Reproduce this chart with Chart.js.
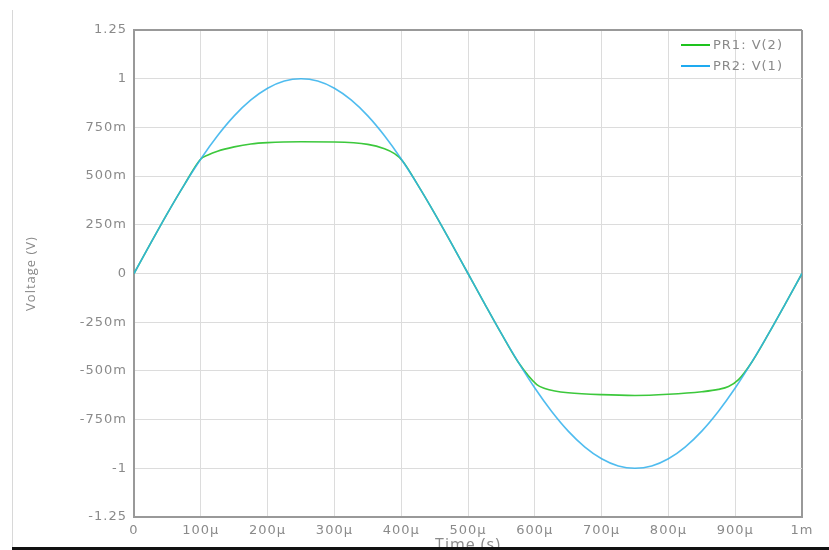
<!DOCTYPE html>
<html>
<head>
<meta charset="utf-8">
<script src="https://cdn.jsdelivr.net/npm/chart.js@4.4.1/dist/chart.umd.min.js"></script>
<style>
  html, body { margin: 0; padding: 0; background: #fff; }
  #wrap { position: relative; width: 829px; height: 550px; overflow: hidden; }
  #frame-left { position: absolute; left: 12px; top: 10px; width: 1px; height: 540px; background: #d8d8d8; }
  #frame-bottom { position: absolute; left: 12px; right: 0; top: 547px; height: 3px; background: #111; }
</style>
</head>
<body>
<div id="wrap">
  <canvas id="chart"></canvas>
  <div id="frame-left"></div>
  <div id="frame-bottom"></div>
</div>
<script>
// time in microseconds
const T1 = [0, 25, 50, 75, 100, 125, 150, 175, 200, 225, 250, 275, 300, 325, 350, 375, 400, 425, 450, 475,
  500, 525, 550, 575, 600, 625, 650, 675, 700, 725, 750, 775, 800, 825, 850, 875, 900, 925, 950, 975, 1000];
const V1 = [0, 0.156, 0.309, 0.454, 0.588, 0.707, 0.809, 0.891, 0.951, 0.988, 1.0, 0.988, 0.951, 0.891, 0.809, 0.707, 0.588, 0.454, 0.309, 0.156,
  0, -0.156, -0.309, -0.454, -0.588, -0.707, -0.809, -0.891, -0.951, -0.988, -1.0, -0.988, -0.951, -0.891, -0.809, -0.707, -0.588, -0.454, -0.309, -0.156, 0];

const T2 = [0, 25, 50, 75, 100, 110, 125, 150, 175, 200, 250, 300, 350, 375, 390, 402, 425, 450, 475,
  500, 525, 550, 575, 603, 615, 630, 650, 700, 750, 800, 850, 875, 890, 905, 925, 950, 975, 1000];
const V2 = [0, 0.156, 0.309, 0.454, 0.588, 0.607, 0.628, 0.65, 0.665, 0.672, 0.676, 0.675, 0.663, 0.64, 0.615, 0.578, 0.454, 0.309, 0.156,
  0, -0.156, -0.309, -0.454, -0.57, -0.59, -0.603, -0.612, -0.622, -0.626, -0.62, -0.607, -0.595, -0.58, -0.545, -0.454, -0.309, -0.156, 0];

const SERIES_LABELS = ["PR1: V(2)", "PR2: V(1)"];
const SERIES_COLORS = ["#3cc83c", "rgba(48,176,236,0.85)"];
const LEGEND_COLORS = ["#1ec31e", "#1eaaf0"];

const Y_TICKS = [-1.25, -1, -0.75, -0.5, -0.25, 0, 0.25, 0.5, 0.75, 1, 1.25];
const Y_TICK_LABELS = ["-1.25", "-1", "-750m", "-500m", "-250m", "0", "250m", "500m", "750m", "1", "1.25"];
const X_TICKS = [0, 100, 200, 300, 400, 500, 600, 700, 800, 900, 1000];
const X_TICK_LABELS = ["0", "100\u00b5", "200\u00b5", "300\u00b5", "400\u00b5", "500\u00b5", "600\u00b5", "700\u00b5", "800\u00b5", "900\u00b5", "1m"];

const FONT = "'DejaVu Sans', 'Noto Sans', sans-serif";
const TITLE_FONT = "'Open Sans', 'Noto Sans', sans-serif";
const TEXT = "#8a8a8a";

// the reference text is drawn wide, so add a little letter spacing
const spacing = {
  id: "spacing",
  beforeLayout(chart) { chart.ctx.letterSpacing = "1px"; },
  beforeDraw(chart) { chart.ctx.letterSpacing = "1px"; },
};

const legendPlugin = {
  id: "insideLegend",
  afterDraw(chart) {
    const { ctx, chartArea } = chart;
    ctx.save();
    ctx.font = "13px " + FONT;
    ctx.textBaseline = "middle";
    ctx.textAlign = "left";
    SERIES_LABELS.forEach((lab, i) => {
      const y = chartArea.top + 15 + i * 21;
      const x = chartArea.right - 121;
      ctx.strokeStyle = LEGEND_COLORS[i];
      ctx.lineWidth = 2;
      ctx.beginPath();
      ctx.moveTo(x, y);
      ctx.lineTo(x + 29, y);
      ctx.stroke();
      ctx.fillStyle = TEXT;
      ctx.fillText(lab, x + 32, y + 1);
    });
    ctx.restore();
  },
};

new Chart(document.getElementById("chart"), {
  type: "line",
  data: {
    datasets: [
      {
        label: SERIES_LABELS[0],
        data: T2.map((t, i) => ({ x: t, y: V2[i] })),
        borderColor: SERIES_COLORS[0],
        borderWidth: 1.6,
        pointRadius: 0,
        cubicInterpolationMode: "monotone",
        order: 2,
      },
      {
        label: SERIES_LABELS[1],
        data: T1.map((t, i) => ({ x: t, y: V1[i] })),
        borderColor: SERIES_COLORS[1],
        borderWidth: 1.6,
        pointRadius: 0,
        cubicInterpolationMode: "monotone",
        order: 1,
      },
    ],
  },
  options: {
    responsive: true,
    maintainAspectRatio: false,
    animation: false,
    layout: { padding: { top: 30, right: 27, left: 0, bottom: 0 } },
    plugins: { legend: { display: false }, tooltip: { enabled: false } },
    scales: {
      x: {
        type: "linear",
        min: 0,
        max: 1000,
        afterBuildTicks(scale) { scale.ticks = X_TICKS.map(v => ({ value: v })); },
        afterFit(scale) { scale.height = 33; },
        border: { color: "#999", width: 2 },
        grid: {
          drawTicks: false,
          color: c => (c.tick && c.tick.value === 1000 ? "#999" : "#dcdcdc"),
          lineWidth: c => (c.tick && c.tick.value === 1000 ? 2 : 1),
        },
        ticks: {
          padding: 6,
          color: TEXT,
          font: { family: FONT, size: 13 },
          maxRotation: 0,
          autoSkip: false,
          callback: v => X_TICK_LABELS[X_TICKS.indexOf(v)] ?? "",
        },
        title: { display: true, text: "Time (s)", color: TEXT, font: { family: TITLE_FONT, size: 16 }, padding: { top: 0, bottom: -5 } },
      },
      y: {
        min: -1.25,
        max: 1.25,
        afterBuildTicks(scale) { scale.ticks = Y_TICKS.map(v => ({ value: v })); },
        afterFit(scale) { scale.width = 134; },
        border: { color: "#999", width: 2 },
        grid: {
          drawTicks: false,
          color: c => (c.tick && c.tick.value === 1.25 ? "#999" : "#dcdcdc"),
          lineWidth: c => (c.tick && c.tick.value === 1.25 ? 2 : 1),
        },
        ticks: {
          padding: 7,
          color: TEXT,
          font: { family: FONT, size: 13 },
          autoSkip: false,
          callback: v => Y_TICK_LABELS[Y_TICKS.indexOf(v)] ?? "",
        },
        title: { display: true, text: "Voltage (V)", color: TEXT, font: { family: TITLE_FONT, size: 13 }, padding: { top: 23 } },
      },
    },
  },
  plugins: [spacing, legendPlugin],
});
</script>
</body>
</html>
